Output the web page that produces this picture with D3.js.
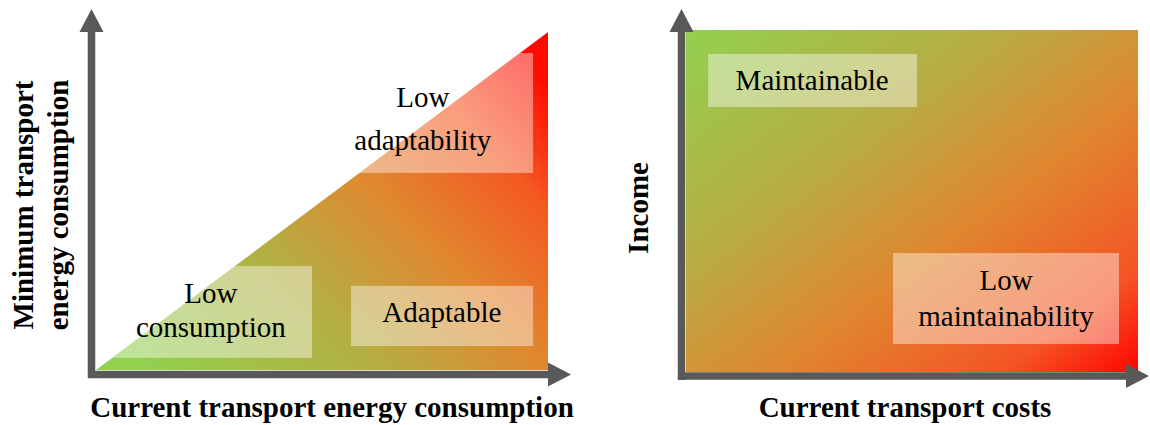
<!DOCTYPE html>
<meta charset="utf-8">
<style>
body { margin: 0; background: #fff; }
text { font-family: "Liberation Serif", "Times New Roman", Tinos, "DejaVu Serif", serif; fill: #000; }
.title { font-weight: bold; font-size: 29px; }
.lab { font-size: 29px; font-weight: normal; font-family: "Liberation Serif", "Times New Roman", Tinos, "DejaVu Serif", serif; }
</style>
<svg id="svg" width="1150" height="425"></svg>
<script src="https://d3js.org/d3.v7.min.js"></script>
<script>
// left panel: regions inside the triangle (domain 0..1 on both axes)
var leftLabels = [["Low", "consumption"], ["Adaptable"], ["Low", "adaptability"]];
var leftX0 = [0.03, 0.564, 0.48];
var leftX1 = [0.478, 0.967, 0.967];
var leftY0 = [0.036, 0.071, 0.583];
var leftY1 = [0.308, 0.249, 0.938];
var leftTextX = [0.254, 0.765, 0.723];
var leftTextY = [0.198, 0.142, 0.778];

// right panel
var rightLabels = [["Maintainable"], ["Low", "maintainability"]];
var rightX0 = [0.049, 0.458];
var rightX1 = [0.511, 0.958];
var rightY0 = [0.775, 0.082];
var rightY1 = [0.93, 0.348];
var rightTextX = [0.279, 0.708];
var rightTextY = [0.825, 0.240];

var leftXTitle = "Current transport energy consumption";
var leftYTitle = ["Minimum transport", "energy consumption"];
var rightXTitle = "Current transport costs";
var rightYTitle = "Income";

var svg = d3.select("svg");
var defs = svg.append("defs");

var xL = d3.scaleLinear().domain([0, 1]).range([96, 548]),
    yL = d3.scaleLinear().domain([0, 1]).range([370, 32]);
var xR = d3.scaleLinear().domain([0, 1]).range([686, 1138]),
    yR = d3.scaleLinear().domain([0, 1]).range([372, 30]);

function grad(id, x1, y1, x2, y2, stops) {
  var g = defs.append("linearGradient").attr("id", id)
    .attr("x1", x1).attr("y1", y1).attr("x2", x2).attr("y2", y2);
  stops.forEach(function(s) {
    g.append("stop").attr("offset", s[0]).attr("stop-color", s[1]);
  });
}
grad("gL", 0, 0.85, 1, 0.15, [[0, "#92d050"], [0.35, "#b4ae44"], [0.6, "#e0882f"], [0.82, "#f45a22"], [1, "#ff0a00"]]);
grad("gR", 0, 0, 1, 1, [[0, "#92d050"], [0.35, "#b8ac44"], [0.6, "#e0862f"], [0.85, "#f45424"], [1, "#ff0500"]]);

// left triangle
var tri = [[0, 0], [1, 1], [1, 0]].map(function(p) { return [xL(p[0]), yL(p[1])]; });
defs.append("clipPath").attr("id", "clipTri")
  .append("path").attr("d", d3.line()(tri) + "Z");
svg.append("path").attr("d", d3.line()(tri) + "Z").attr("fill", "url(#gL)");

var gl = svg.append("g").attr("clip-path", "url(#clipTri)");
gl.selectAll("rect").data(leftLabels).enter().append("rect")
  .attr("x", function(d, i) { return xL(leftX0[i]); })
  .attr("width", function(d, i) { return xL(leftX1[i]) - xL(leftX0[i]); })
  .attr("y", function(d, i) { return yL(leftY1[i]); })
  .attr("height", function(d, i) { return yL(leftY0[i]) - yL(leftY1[i]); })
  .attr("fill", "#fff").attr("fill-opacity", 0.42);

// right rectangle
svg.append("rect")
  .attr("x", xR(0)).attr("y", yR(1))
  .attr("width", xR(1) - xR(0)).attr("height", yR(0) - yR(1))
  .attr("fill", "url(#gR)");
svg.append("g").selectAll("rect").data(rightLabels).enter().append("rect")
  .attr("x", function(d, i) { return xR(rightX0[i]); })
  .attr("width", function(d, i) { return xR(rightX1[i]) - xR(rightX0[i]); })
  .attr("y", function(d, i) { return yR(rightY1[i]); })
  .attr("height", function(d, i) { return yR(rightY0[i]) - yR(rightY1[i]); })
  .attr("fill", "#fff").attr("fill-opacity", 0.42);

function labels(data, xs, ys, tx, ty, gaps) {
  svg.append("g").selectAll("text").data(data).enter().append("text")
    .attr("class", "lab")
    .attr("text-anchor", "middle")
    .each(function(d, i) {
      var t = d3.select(this);
      d.forEach(function(line, j) {
        t.append("tspan").attr("x", xs(tx[i])).attr("y", ys(ty[i]) + j * gaps[i]).text(line);
      });
    });
}
labels(leftLabels, xL, yL, leftTextX, leftTextY, [34, 0, 43]);
labels(rightLabels, xR, yR, rightTextX, rightTextY, [0, 36]);

// axis arrows
function arrow(x1, y1, x2, y2) {
  var col = "#595959";
  var ang = Math.atan2(y2 - y1, x2 - x1), len = 23, hw = 12;
  var bx = x2 - len * Math.cos(ang), by = y2 - len * Math.sin(ang);
  svg.append("line").attr("x1", x1).attr("y1", y1).attr("x2", bx).attr("y2", by)
    .attr("stroke", col).attr("stroke-width", 7.5);
  var px = -Math.sin(ang) * hw, py = Math.cos(ang) * hw;
  svg.append("path")
    .attr("d", "M" + x2 + "," + y2 + "L" + (bx + px) + "," + (by + py) + "L" + (bx - px) + "," + (by - py) + "Z")
    .attr("fill", col);
}
arrow(91.5, 378, 91.5, 9);
arrow(88, 374.5, 571, 374.5);
arrow(681.5, 380, 681.5, 9);
arrow(678, 376, 1149, 376);

// axis titles
svg.append("text").attr("class", "title").attr("text-anchor", "middle")
  .attr("x", 332).attr("y", 417).text(leftXTitle);
svg.append("text").attr("class", "title").attr("text-anchor", "middle")
  .attr("x", 905).attr("y", 417).text(rightXTitle);

var yt = svg.append("text").attr("class", "title").attr("text-anchor", "middle")
  .attr("transform", "translate(0,205) rotate(-90)");
leftYTitle.forEach(function(line, j) {
  yt.append("tspan").attr("x", 0).attr("y", 33 + j * 35).text(line);
});
svg.append("text").attr("class", "title").attr("text-anchor", "middle")
  .attr("transform", "translate(648,208) rotate(-90)").text(rightYTitle);
</script>
